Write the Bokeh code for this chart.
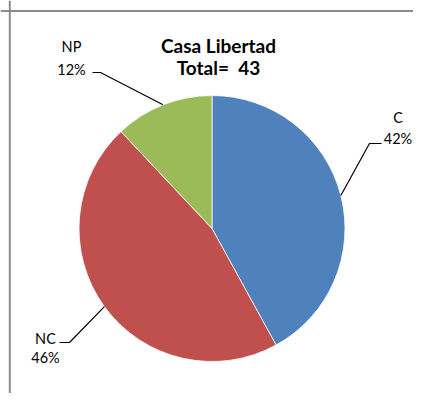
import math
from bokeh.plotting import figure
from bokeh.models import Range1d, Span
from bokeh.core.properties import value
from bokeh.embed import file_html
from bokeh.resources import INLINE

# ---- data ----
categories = ["C", "NC", "NP"]
percents = [42, 46, 12]
colors = ["#4F81BD", "#C0504D", "#9BBB59"]
title_lines = ["Casa Libertad", "Total=\u00a0 43"]

# ---- layout (picture-pixel based) ----
W, H = 413, 393
def px(x):  # picture x -> data x
    return x
def py(y):  # picture y -> data y
    return H - y

cx, cy, R = px(211.5), py(228), 133

label_layout = {
    "C":  dict(elbow=(369, 143), stub=(381, 143), tx=397.5, ty=(117, 138)),
    "NC": dict(elbow=(69, 342), stub=(59, 342), tx=45, ty=(338, 357)),
    "NP": dict(elbow=(100, 72), stub=(92, 72), tx=71, ty=(45.5, 68.5)),
}

total = sum(percents)
fracs = [c / total for c in percents]
pcts = [f"{v}%" for v in percents]

starts, ends, mids = [], [], []
acc = 0.0
for f in fracs:
    a0 = math.pi / 2 - 2 * math.pi * acc
    a1 = math.pi / 2 - 2 * math.pi * (acc + f)
    starts.append(a1)
    ends.append(a0)
    mids.append((a0 + a1) / 2)
    acc += f

p = figure(width=W, height=H, output_backend="svg", toolbar_location=None,
           x_range=Range1d(0, W), y_range=Range1d(0, H), min_border=0)
p.axis.visible = False
p.grid.visible = False
p.outline_line_color = None
p.background_fill_color = "white"
p.border_fill_color = "white"

# chart border (left and top edges visible in the picture)
p.add_layout(Span(location=px(9.3), dimension="height", line_color="#8a8a8a", line_width=2))
p.add_layout(Span(location=py(10.5), dimension="width", line_color="#8a8a8a", line_width=2))

p.wedge(x=cx, y=cy, radius=R, start_angle=starts, end_angle=ends,
        fill_color=colors, line_color="white", line_width=0.8)

font = value("Lato")
for cat, pct, m in zip(categories, pcts, mids):
    lay = label_layout[cat]
    ex, ey = cx + R * math.cos(m), cy + R * math.sin(m)
    xs = [ex, px(lay["elbow"][0]), px(lay["stub"][0])]
    ys = [ey, py(lay["elbow"][1]), py(lay["stub"][1])]
    p.line(xs, ys, line_color="black", line_width=1.2)
    p.text(x=[px(lay["tx"])] * 2, y=[py(lay["ty"][0]), py(lay["ty"][1])],
           text=[cat, pct], text_font=font, text_font_size="14.5px",
           text_align="center", text_baseline="middle", text_color="black")

p.text(x=[px(218)] * 2, y=[py(45), py(67)], text=title_lines,
       text_font=font, text_font_size="19px", text_font_style="bold",
       text_align="center", text_baseline="middle", text_color="black")

open("out.html", "w").write(file_html(p, INLINE))
